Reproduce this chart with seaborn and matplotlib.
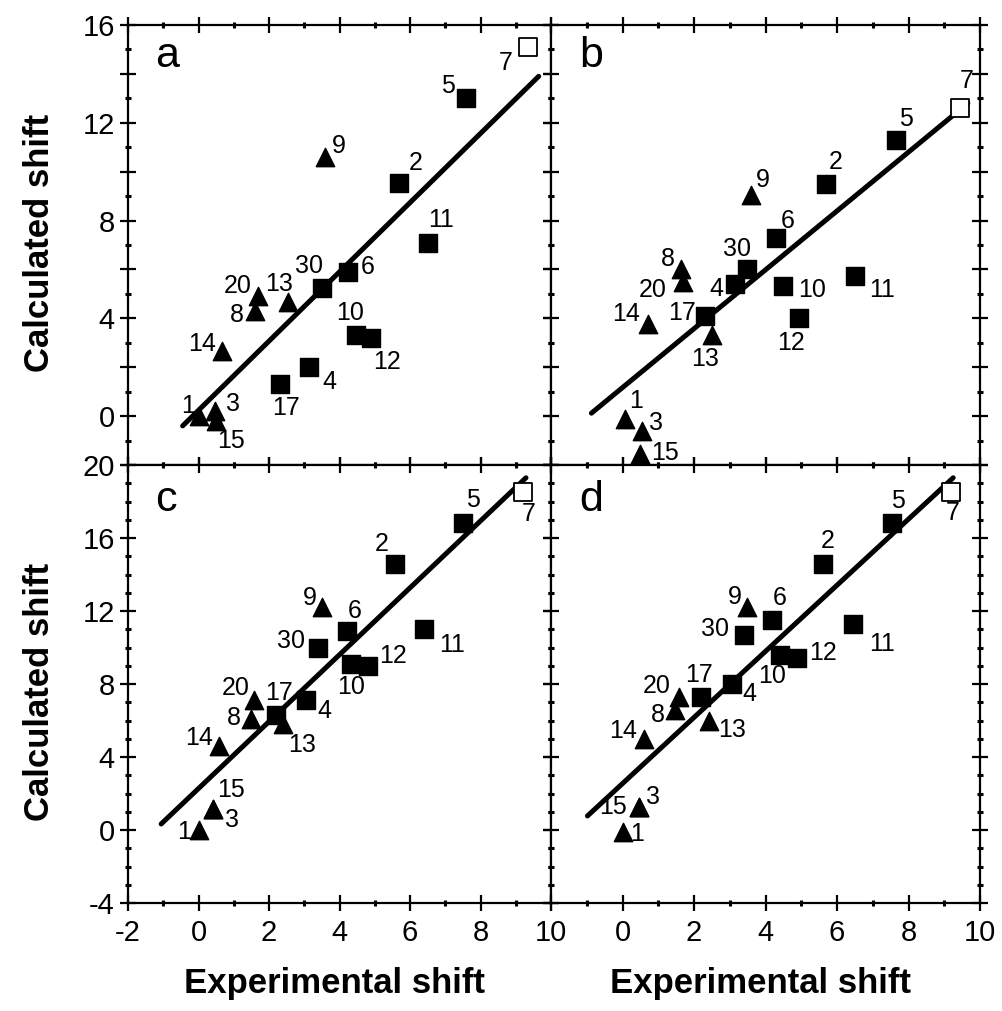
import matplotlib
matplotlib.use("Agg")
import matplotlib.pyplot as plt
import seaborn as sns
import pandas as pd
from matplotlib.ticker import MultipleLocator, FuncFormatter

# ---------------- data ----------------
ids = [1, 2, 3, 4, 5, 6, 7, 8, 9, 10, 11, 12, 13, 14, 15, 17, 20, 30]
kinds = ["tri", "sq", "tri", "sq", "sq", "sq", "open", "tri", "tri",
         "sq", "sq", "sq", "tri", "tri", "tri", "sq", "tri", "sq"]

exp_a = [0.0, 5.7, 0.48, 3.14, 7.6, 4.24, 9.35, 1.6, 3.6, 4.46, 6.5, 4.9, 2.55, 0.66, 0.5, 2.3, 1.7, 3.5]
calc_a = [0.0, 9.55, 0.2, 2.0, 13.0, 5.9, 15.1, 4.3, 10.6, 3.3, 7.1, 3.2, 4.65, 2.65, -0.2, 1.3, 4.9, 5.25]

exp_b = [0.08, 5.7, 0.55, 3.14, 7.65, 4.3, 9.43, 1.65, 3.6, 4.48, 6.5, 4.95, 2.5, 0.7, 0.48, 2.3, 1.68, 3.47]
calc_b = [-0.1, 9.5, -0.6, 5.4, 11.3, 7.27, 12.6, 6.0, 9.05, 5.33, 5.75, 4.0, 3.3, 3.75, -1.56, 4.08, 5.5, 6.0]

exp_c = [0.0, 5.57, 0.4, 3.05, 7.5, 4.2, 9.2, 1.5, 3.5, 4.34, 6.4, 4.8, 2.4, 0.57, 0.4, 2.2, 1.57, 3.4]
calc_c = [0.0, 14.6, 1.15, 7.1, 16.8, 10.9, 18.5, 6.07, 12.2, 9.07, 11.0, 9.0, 5.8, 4.6, 1.15, 6.3, 7.1, 10.0]

exp_d = [0.0, 5.6, 0.45, 3.05, 7.53, 4.17, 9.2, 1.46, 3.47, 4.4, 6.44, 4.87, 2.43, 0.59, 0.45, 2.2, 1.57, 3.4]
calc_d = [-0.1, 14.6, 1.26, 8.0, 16.8, 11.5, 18.5, 6.55, 12.2, 9.6, 11.3, 9.45, 5.96, 5.0, 1.26, 7.27, 7.3, 10.7]

# fitted lines (end points)
fit_x_a = [-0.45, 9.65]
fit_y_a = [-0.4, 13.9]
fit_x_b = [-0.87, 9.66]
fit_y_b = [0.12, 12.8]
fit_x_c = [-1.06, 9.29]
fit_y_c = [0.33, 19.3]
fit_x_d = [-0.98, 9.25]
fit_y_d = [0.77, 19.3]

panel_letters = ["a", "b", "c", "d"]
xlabel_text = "Experimental shift"
ylabel_text = "Calculated shift"

# ---------------- label offsets (pixels, +dy = downwards) ----------------
off_a = {1: (-10, -10), 2: (16, -20), 3: (18, -7), 4: (20, 15), 5: (-18, -12), 6: (20, -5),
         7: (-22, 16), 8: (-18, 4), 9: (13, -11), 10: (-6, -22), 11: (13, -23), 12: (16, 24),
         13: (-9, -18), 14: (-20, -7), 15: (15, 20), 17: (6, 24), 20: (-21, -10), 30: (-13, -22)}
off_b = {1: (11, -18), 2: (9, -22), 3: (14, -8), 4: (-18, 5), 5: (10, -21), 6: (11, -17),
         7: (7, -27), 8: (-14, -10), 9: (12, -15), 10: (29, 4), 11: (27, 14), 12: (-8, 25),
         13: (-7, 24), 14: (-21, -10), 15: (25, -1), 17: (-23, -3), 20: (-30, 8), 30: (-10, -20)}
off_c = {1: (-14, 2), 2: (-13, -20), 3: (19, 11), 4: (18, 11), 5: (10, -23), 6: (8, -20),
         7: (6, 22), 8: (-18, -1), 9: (-12, -9), 10: (0, 23), 11: (28, 16), 12: (25, -10),
         13: (19, 21), 14: (-20, -8), 15: (18, -19), 17: (3, -22), 20: (-18, -12), 30: (-27, -7)}
off_d = {1: (15, 2), 2: (5, -23), 3: (14, -10), 4: (18, 10), 5: (6, -22), 6: (8, -22),
         7: (1, 21), 8: (-17, 5), 9: (-12, -10), 10: (-8, 21), 11: (29, 20), 12: (26, -5),
         13: (23, 9), 14: (-21, -8), 15: (-26, 0), 17: (-2, -22), 20: (-22, -11), 30: (-29, -6)}

# ---------------- style ----------------
sns.set_theme(style="ticks")
plt.rcParams["font.family"] = ["Liberation Sans", "DejaVu Sans"]
plt.rcParams["axes.linewidth"] = 1.6
for k in ["text.color", "axes.labelcolor", "xtick.color", "ytick.color", "axes.edgecolor"]:
    plt.rcParams[k] = "black"

W, H = 1002, 1011
fig = plt.figure(figsize=(W / 100, H / 100), dpi=100)

xl = [128 / W, 551 / W]
wl = [(551 - 128) / W, (980 - 551) / W]
top_b, mid_b, bot_b = 1 - 25 / H, 1 - 465 / H, 1 - 903 / H

positions = [
    [xl[0], mid_b, wl[0], top_b - mid_b],
    [xl[1], mid_b, wl[1], top_b - mid_b],
    [xl[0], bot_b, wl[0], mid_b - bot_b],
    [xl[1], bot_b, wl[1], mid_b - bot_b],
]

panels = [
    (exp_a, calc_a, fit_x_a, fit_y_a, off_a),
    (exp_b, calc_b, fit_x_b, fit_y_b, off_b),
    (exp_c, calc_c, fit_x_c, fit_y_c, off_c),
    (exp_d, calc_d, fit_x_d, fit_y_d, off_d),
]

for i, (ex, ca, fx, fy, off) in enumerate(panels):
    ax = fig.add_axes(positions[i])
    df = pd.DataFrame({"id": ids, "kind": kinds, "exp": ex, "calc": ca})
    sns.lineplot(x=fx, y=fy, ax=ax, color="black", linewidth=3.6, zorder=2)
    sq = df[df.kind == "sq"]
    tri = df[df.kind == "tri"]
    op = df[df.kind == "open"]
    sns.scatterplot(data=sq, x="exp", y="calc", ax=ax, marker="s", s=150,
                    color="black", edgecolor="black", linewidth=1, zorder=3)
    sns.scatterplot(data=tri, x="exp", y="calc", ax=ax, marker="^", s=175,
                    color="black", edgecolor="black", linewidth=1, zorder=3)
    sns.scatterplot(data=op, x="exp", y="calc", ax=ax, marker="s", s=150,
                    facecolor="white", edgecolor="black", linewidth=1.3, zorder=3)
    for _, r in df.iterrows():
        dx, dy = off[int(r["id"])]
        ax.annotate(str(int(r["id"])), (r["exp"], r["calc"]), xytext=(dx, -dy),
                    textcoords="offset pixels", ha="center", va="center",
                    fontsize=18, color="black", zorder=4, annotation_clip=False)

    ax.set_xlim(-2, 10)
    ax.xaxis.set_major_locator(MultipleLocator(2))
    ax.xaxis.set_minor_locator(MultipleLocator(1))
    if i < 2:
        ax.set_ylim(-2, 16)
        ax.yaxis.set_major_locator(MultipleLocator(2))
    else:
        ax.set_ylim(-4, 20)
        ax.yaxis.set_major_locator(MultipleLocator(4))
    ax.yaxis.set_minor_locator(MultipleLocator(1))

    ax.tick_params(which="both", direction="inout", top=True, right=True,
                   bottom=True, left=True, color="black", labelcolor="black", labelsize=21)
    ax.tick_params(which="major", length=11, width=1.6)
    ax.tick_params(which="minor", length=5, width=2.2)

    if i in (0, 2):
        ax.yaxis.set_major_formatter(FuncFormatter(
            lambda v, p: f"{int(round(v))}" if int(round(v)) % 4 == 0 else ""))
    else:
        ax.set_yticklabels([])
    if i == 2:
        ax.xaxis.set_major_formatter(FuncFormatter(lambda v, p: f"{int(round(v))}"))
    elif i == 3:
        ax.xaxis.set_major_formatter(FuncFormatter(
            lambda v, p: f"{int(round(v))}" if v > -1 else ""))
    else:
        ax.set_xticklabels([])
    ax.tick_params(axis="y", pad=4)
    ax.tick_params(axis="x", pad=6)
    ax.set_xlabel("")
    ax.set_ylabel("")
    for sp in ax.spines.values():
        sp.set_visible(True)
        sp.set_linewidth(1.6)
        sp.set_color("black")
    ax.text(0.065, 0.975 if i < 2 else 0.965, panel_letters[i], transform=ax.transAxes,
            ha="left", va="top", fontsize=31, color="black")

fig.text(40 / W, 1 - 243 / H, ylabel_text, rotation=90, ha="center", va="center",
         fontsize=25, fontweight="bold")
fig.text(40 / W, 1 - 692 / H, ylabel_text, rotation=90, ha="center", va="center",
         fontsize=25, fontweight="bold")
fig.text(335 / W, 1 - 983 / H, xlabel_text, ha="center", va="center",
         fontsize=25, fontweight="bold")
fig.text(760 / W, 1 - 983 / H, xlabel_text, ha="center", va="center",
         fontsize=25, fontweight="bold")

fig.savefig("out.png", dpi=100, facecolor="white")
